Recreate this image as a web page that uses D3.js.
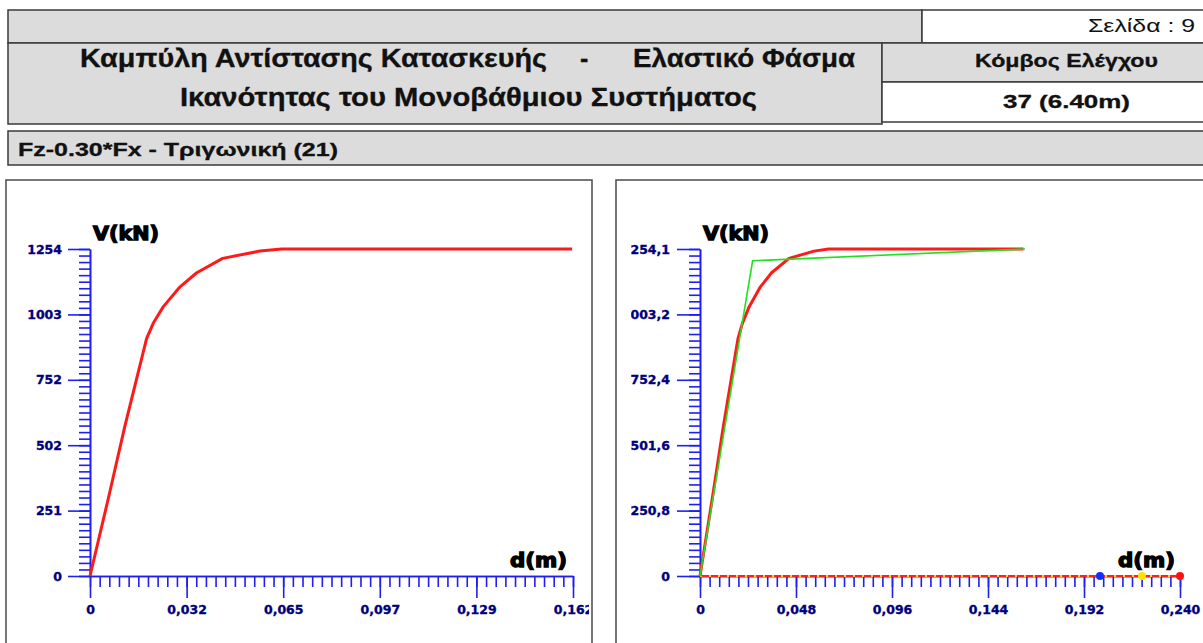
<!DOCTYPE html>
<html>
<head>
<meta charset="utf-8">
<script src="https://cdn.jsdelivr.net/npm/d3@7/dist/d3.min.js"></script>
<style>
  html, body { margin: 0; padding: 0; background: #ffffff; }
  svg { display: block; }
  text { font-family: "DejaVu Sans", Verdana, sans-serif; }
</style>
</head>
<body>
<svg id="chart" width="1203" height="643"></svg>
<script>
// Capacity curve (displacement d in m, base shear V in kN)
const capD = [0, 0.0062, 0.0117, 0.0190, 0.0212, 0.0246, 0.0302, 0.0358, 0.0445, 0.0570, 0.0643, 0.1617];
const capV = [0, 300, 575, 911, 969, 1033, 1109, 1163, 1218, 1246, 1254, 1254];

// Idealised bilinear curve of the equivalent SDOF system
const biD = [0, 0.0263, 0.1625];
const biV = [0, 1209, 1254];

// Trace along the displacement axis and the marked displacements
const traceD = [0, 0.240];
const traceV = [0, 0];
const markD = [0.200, 0.221, 0.240];
const markColor = ["#1030ff", "#ffe000", "#ff1010"];

// Axis extents and tick labels
const leftXMax = 0.162, leftYMax = 1254;
const rightXMax = 0.240, rightYMax = 1254.1;
const leftXLabels = ["0", "0,032", "0,065", "0,097", "0,129", "0,162"];
const leftYLabels = ["0", "251", "502", "752", "1003", "1254"];
const rightXLabels = ["0", "0,048", "0,096", "0,144", "0,192", "0,240"];
const rightYLabels = ["0", "250,8", "501,6", "752,4", "1003,2", "1254,1"];

// Header texts
const titleLine1a = "Καμπύλη Αντίστασης Κατασκευής";
const titleDash = "-";
const titleLine1b = "Ελαστικό Φάσμα";
const titleLine2 = "Ικανότητας του Μονοβάθμιου Συστήματος";
const pageText = "Σελίδα : 9";
const nodeHead = "Κόμβος Ελέγχου";
const nodeValue = "37 (6.40m)";
const caseText = "Fz-0.30*Fx - Τριγωνική (21)";

const svg = d3.select("#chart");
const GRAY = "#dcdcdc", EDGE = "#3a3a3a";
const AXIS = "#1f1fee", LABEL = "#00007a";
const HEAD_FONT = "\"Liberation Sans\", Arial, sans-serif";

// ---------- header boxes ----------
function box(x, y, w, h, fill) {
  svg.append("rect").attr("x", x).attr("y", y).attr("width", w).attr("height", h)
    .attr("fill", fill).attr("stroke", EDGE).attr("stroke-width", 1.5);
}
box(8, 10, 914, 33, GRAY);
box(922, 10, 300, 33, "#ffffff");
box(8, 43, 874, 81, GRAY);
box(882, 43, 340, 39, GRAY);
box(882, 82, 340, 40, "#ffffff");
box(8, 131, 1214, 34, GRAY);

function txt(s, x, y, size, weight, len, anchor) {
  const t = svg.append("text").attr("x", x).attr("y", y)
    .style("font-family", HEAD_FONT)
    .attr("font-size", size).attr("font-weight", weight)
    .attr("fill", "#111").attr("text-anchor", anchor || "start").text(s);
  if (weight === "bold") t.attr("stroke", "#111").attr("stroke-width", 0.3);
  if (len) t.attr("textLength", len).attr("lengthAdjust", "spacingAndGlyphs");
  return t;
}
txt(titleLine1a, 80, 67, 25, "bold", 467);
txt(titleDash, 580, 67, 25, "bold");
txt(titleLine1b, 633, 67, 25, "bold", 222);
txt(titleLine2, 180, 106, 25, "bold", 577);
txt(pageText, 1088, 32, 19, "normal", 107);
txt(nodeHead, 975, 67, 18, "bold", 183);
txt(nodeValue, 1003, 108, 18, "bold", 127);
txt(caseText, 18, 156, 18, "bold", 320);

// ---------- chart panels ----------
svg.append("rect").attr("x", 6).attr("y", 180).attr("width", 586).attr("height", 480)
  .attr("fill", "#fff").attr("stroke", "#555").attr("stroke-width", 1.6);
svg.append("rect").attr("x", 616).attr("y", 180).attr("width", 620).attr("height", 480)
  .attr("fill", "#fff").attr("stroke", "#555").attr("stroke-width", 1.6);

function drawPanel(opt) {
  const g = svg.append("g");
  const x = d3.scaleLinear().domain([0, opt.xMax]).range([opt.x0, opt.x1]);
  const y = d3.scaleLinear().domain([0, opt.yMax]).range([576, 249]);

  const xMajor = d3.range(6).map(i => i * opt.xMax / 5);
  const yMajor = d3.range(6).map(i => i * opt.yMax / 5);
  const xMinor = d3.range(51).map(i => i * opt.xMax / 50);
  const yMinor = d3.range(51).map(i => i * opt.yMax / 50);

  function styleAxis(sel) {
    sel.selectAll("path, line").attr("stroke", AXIS).attr("stroke-width", 1.6);
    sel.selectAll("text").attr("fill", LABEL).attr("stroke", LABEL).attr("stroke-width", 0.35)
      .attr("font-size", 12.5)
      .attr("font-weight", "bold").attr("font-family", "\"DejaVu Sans\", sans-serif");
  }

  // minor ticks
  g.append("g").attr("transform", `translate(${opt.x0},0)`)
    .call(d3.axisLeft(y).tickValues(yMinor).tickSize(11).tickSizeOuter(0).tickFormat(""))
    .call(styleAxis);
  g.append("g").attr("transform", "translate(0,576)")
    .call(d3.axisBottom(x).tickValues(xMinor).tickSize(11).tickSizeOuter(0).tickFormat(""))
    .call(styleAxis);

  // major ticks with labels
  const yAx = g.append("g").attr("transform", `translate(${opt.x0},0)`)
    .call(d3.axisLeft(y).tickValues(yMajor).tickSize(opt.yTick).tickPadding(opt.yPad)
      .tickSizeOuter(0).tickFormat((d, i) => opt.yLabels[i]))
    .call(styleAxis);
  if (opt.clipId) {
    // labels wider than the margin are cut at the left edge of the label column
    svg.append("clipPath").attr("id", opt.clipId).append("rect")
      .attr("x", opt.clipX - opt.x0).attr("y", 200)
      .attr("width", opt.x0 - opt.clipX + 2).attr("height", 420);
    yAx.attr("clip-path", `url(#${opt.clipId})`);
  }
  const xAx = g.append("g").attr("transform", "translate(0,576)")
    .call(d3.axisBottom(x).tickValues(xMajor).tickSize(22).tickPadding(7)
      .tickSizeOuter(0).tickFormat((d, i) => opt.xLabels[i]))
    .call(styleAxis);
  if (opt.xClipId) {
    // last label is cut by the panel's right border
    svg.append("clipPath").attr("id", opt.xClipId).append("rect")
      .attr("x", 0).attr("y", -10).attr("width", opt.xClipRight).attr("height", 60);
    xAx.attr("clip-path", `url(#${opt.xClipId})`);
  }

  // axis titles
  g.append("text").attr("x", opt.x0 + 3).attr("y", 240).attr("font-size", 19)
    .attr("font-weight", "bold").attr("fill", "#000").attr("stroke", "#000").attr("stroke-width", 1.3)
    .attr("textLength", 66).attr("lengthAdjust", "spacingAndGlyphs").text("V(kN)");
  g.append("text").attr("x", opt.dX).attr("y", 567).attr("font-size", 19)
    .attr("font-weight", "bold").attr("fill", "#000").attr("stroke", "#000").attr("stroke-width", 1.3)
    .attr("textLength", 57).attr("lengthAdjust", "spacingAndGlyphs").text("d(m)");

  return { g, x, y };
}

// ---------- left panel: capacity curve ----------
const L = drawPanel({
  x0: 90, x1: 573, xMax: leftXMax, yMax: leftYMax,
  xLabels: leftXLabels, yLabels: leftYLabels, yTick: 22, yPad: 6, dX: 510,
  xClipId: "xlabClip", xClipRight: 589
});
const capData = capD.map((d, i) => [d, capV[i]]);
L.g.append("path").datum(capData)
  .attr("d", d3.line().x(p => L.x(p[0])).y(p => L.y(p[1])))
  .attr("fill", "none").attr("stroke", "#ff1a1a").attr("stroke-width", 3)
  .attr("stroke-linejoin", "round");

// ---------- right panel: capacity curve, bilinear idealisation ----------
const R = drawPanel({
  x0: 700, x1: 1180, xMax: rightXMax, yMax: rightYMax,
  xLabels: rightXLabels, yLabels: rightYLabels, yTick: 23, yPad: 7, dX: 1118,
  clipId: "ylabClip", clipX: 631
});
const line = d3.line().x(p => R.x(p[0])).y(p => R.y(p[1]));
const traceData = traceD.map((d, i) => [d, traceV[i]]);
R.g.append("path").datum(traceData).attr("d", line)
  .attr("fill", "none").attr("stroke", "#ff2020").attr("stroke-width", 2);
R.g.append("path").datum(traceData).attr("d", line)
  .attr("fill", "none").attr("stroke", "#ffd21a").attr("stroke-width", 2)
  .attr("stroke-dasharray", "2,7");
R.g.append("path").datum(capData).attr("d", line)
  .attr("fill", "none").attr("stroke", "#ff1a1a").attr("stroke-width", 3)
  .attr("stroke-linejoin", "round");
R.g.append("path").datum(biD.map((d, i) => [d, biV[i]])).attr("d", line)
  .attr("fill", "none").attr("stroke", "#22e022").attr("stroke-width", 1.6);
R.g.selectAll("circle.mark").data(markD).enter().append("circle")
  .attr("class", "mark")
  .attr("cx", d => R.x(d)).attr("cy", R.y(0)).attr("r", 4)
  .attr("fill", (d, i) => markColor[i]);
</script>
</body>
</html>
